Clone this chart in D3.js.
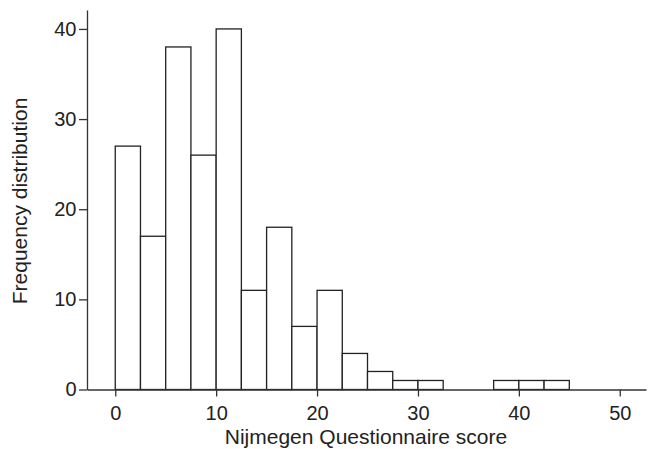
<!DOCTYPE html>
<html>
<head>
<meta charset="utf-8">
<script src="https://cdn.jsdelivr.net/npm/d3@7"></script>
<style>
  body { margin: 0; background: #fff; }
  text { font-family: "Liberation Sans", Arial, sans-serif; fill: #222; }
</style>
</head>
<body>
<div id="holder"></div>
<script>
// histogram bins (lower edge) and counts
const binStarts = [0, 2.5, 5, 7.5, 10, 12.5, 15, 17.5, 20, 22.5, 25, 27.5, 30, 32.5, 35, 37.5, 40, 42.5];
const counts = [27, 17, 38, 26, 40, 11, 18, 7, 11, 4, 2, 1, 1, 0, 0, 1, 1, 1];
const binWidth = 2.5;
const xTicks = [0, 10, 20, 30, 40, 50];
const yTicks = [0, 10, 20, 30, 40];

const width = 648;
const height = 449;

const dataset = binStarts.map((s, i) => ({ x0: s, x1: s + binWidth, count: counts[i] }));

const xScale = d3.scaleLinear().domain([-2.8, 52.6]).range([87, 646]);
const yScale = d3.scaleLinear().domain([0, 42.1]).range([389.5, 10]);

const svg = d3.select("#holder")
    .append("svg")
    .attr("width", width)
    .attr("height", height);

// bars
svg.append("g")
    .selectAll("rect")
    .data(dataset.filter(d => d.count > 0))
    .enter()
    .append("rect")
    .attr("x", d => xScale(d.x0))
    .attr("y", d => yScale(d.count))
    .attr("width", d => xScale(d.x1) - xScale(d.x0))
    .attr("height", d => yScale(0) - yScale(d.count))
    .attr("fill", "#fff")
    .attr("stroke", "#222")
    .attr("stroke-width", 1.3);

const xAxis = d3.axisBottom(xScale)
    .tickValues(xTicks)
    .tickSize(7)
    .tickPadding(9.3)
    .tickSizeOuter(0);

const yAxis = d3.axisLeft(yScale)
    .tickValues(yTicks)
    .tickSize(8)
    .tickPadding(2.5)
    .tickSizeOuter(0);

const gx = svg.append("g")
    .attr("transform", `translate(0, ${yScale(0)})`)
    .call(xAxis);

const gy = svg.append("g")
    .attr("transform", `translate(${xScale.range()[0]}, 0)`)
    .call(yAxis);

[gx, gy].forEach(g => {
    g.selectAll("path, line").attr("stroke", "#333").attr("stroke-width", 1.3);
    g.selectAll("text")
        .style("font-family", '"Liberation Sans", Arial, sans-serif')
        .style("font-size", "20px")
        .attr("fill", "#222");
});

svg.append("text")
    .attr("x", 366)
    .attr("y", 444)
    .attr("text-anchor", "middle")
    .style("font-size", "21px")
    .text("Nijmegen Questionnaire score");

svg.append("text")
    .attr("x", 27)
    .attr("y", 201)
    .attr("text-anchor", "middle")
    .attr("transform", "rotate(-90, 27, 201)")
    .style("font-size", "21px")
    .text("Frequency distribution");
</script>
</body>
</html>
